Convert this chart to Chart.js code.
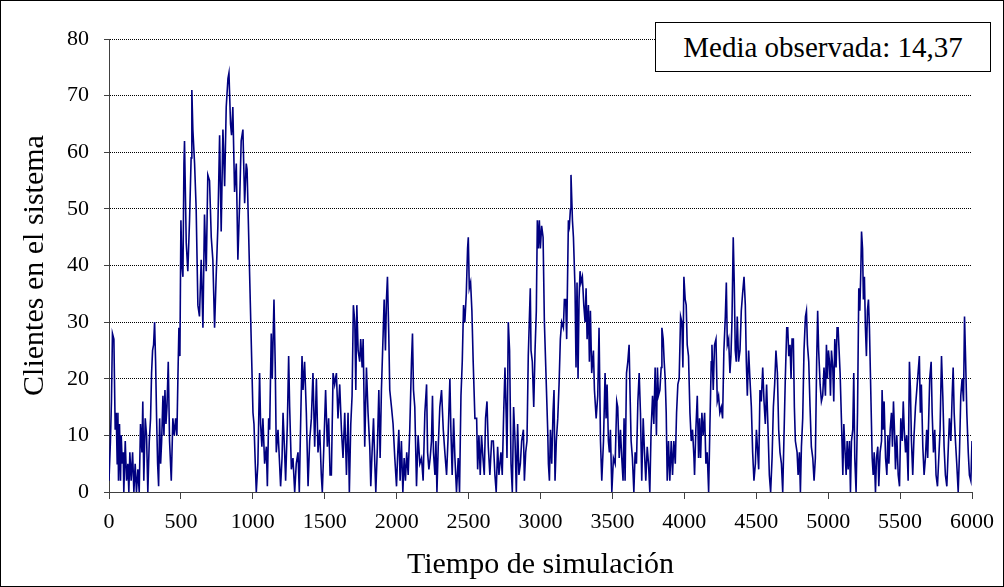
<!DOCTYPE html>
<html>
<head>
<meta charset="utf-8">
<script src="https://cdn.jsdelivr.net/npm/chart.js@4"></script>
<style>
  body { margin: 0; background: #fff; }
  #wrap { position: relative; width: 1004px; height: 587px; }
  #media {
    position: absolute; left: 655px; top: 22px; width: 336px; height: 50px;
    box-sizing: border-box; border: 1px solid #000; background: #fff;
    font: 29px "Liberation Serif", "Times New Roman", serif; color: #000;
    display: flex; align-items: center; justify-content: center;
  }
</style>
</head>
<body>
<div id="wrap">
  <canvas id="chart"></canvas>
  <div id="media">Media observada: 14,37</div>
</div>
<script>
// instantes de simulacion
const tiempo = [
  0,10,17,24,34,38,43,50,57,62, 66,73,80,85,92,99,103,113,122,131, 138,145,154,164,173,182,191,201,210,219,
  229,235,242,252,261,270,280,289,296,303, 310,317,324,331,338,345,352,359,366,375, 382,389,396,403,412,421,433,444,454,463,
  472,479,486,493,500,507,514,521,
  525,537,548,560,571,576,583,595,606,618, 629,641,653,664,676,687,699,711,722,734, 745,757,769,780,792,804,815,827,834,845,
  852,861,873,885,896,908,919,931,943,954, 960,1001,1008,1017,1024,1035,1047,1054,1063,1070, 1082,
  1094,1101,1110,1117,1128,1135,1147,1156,1163,1175, 1186,1193,1203,1210,1221,1228,1240,1249,1256,1268, 1279,1291,1302,1314,1323,1333,1342,1349,1360,1372,
  1384,1395,1407,1418,1430,1442,1453,1465,1476,1483, 1495,1506,1518,1527,1537,1546,1558,1569,1581,1592, 1604,1616,1627,1639,
  1651,1662,1671,1681,1690,1699,1709,1716,1723,1732, 1743,1750,1760,1767,1778,1790,1801,1813,1820,1829, 1839,1848,1855,1866,1876,1885,1894,1906,1913,1922,
  1929,1936,1945,1952,1964,1975,1987,1999,2006,2015, 2024,2033,2043,2052,2061,2070,2080,2091,2103,2110, 2117,2126,2138,2149,2161,2173,2184,2196,
  2208,2215,2224,2233,2242,2249,2256,2266,2273,2280, 2289,2300,2312,2324,2335,2347,2358,2370,2377,2386, 2396,2405,2416,2428,2437,2447,2456,2465,2474,2484,
  2493,2498,2505,2514,2523,2532,2544,2556,2563,2572, 2581,2590,2600,2609,2618,2628,2637,2648,2660,2672, 2683,2692,2702,2711,2725,2734,2744,2753,
  2762,2767,2776,2785,2795,2804,2813,2823,2832,2841, 2850,2860,2869,2881,2888,2897,2906,2915,2922,2929, 2934,2943,2953,2962,2971,2978,2985,2992,2999,3008,
  3018,3027,3050,3055,3062,3069,3078,3087,3094,3101, 3110,3120,3129,3138,3147,3159,3166,3175,3182,3194, 3201,3208,3212,3222,3229,3240,3247,3254,3261,3268,
  3275,3282,3291,3301,3310,
  3317,3324,3333,3340,3347,3356,3368,3375,3387,3398, 3407,3417,3426,3438,3449,3456,3463,3472,3479,3486, 3496,3507,3519,3530,3537,3547,3556,3565,3574,3581,
  3588,3598,3607,3616,3623,3630,3639,3649,3658,3667, 3677,3686,3695,3704,3714,3723,3732,3742,3751,3760, 3769,3779,3788,3797,3806,3813,3820,3830,3839,3844,
  3853,3860,3867,
  3874,3881,3890,3899,3909,3918,3927,3937,3946,3955, 3964,3974,3983,3990,3997,4006,4013,4020,4029,4039, 4048,4057,4067,4071,4080,4090,4099,4106,4113,4122,
  4131,4141,4150,4159,4169,4178,4187,4192,4201,4210, 4220,4229,4238,4247,4257,4266,4275,4285,4292,4299, 4308,4317,4324,4331,4340,4347,4354,4361,4368,4377,
  4387,4396,4405,4415,4424,
  4431,4438,4447,4456,4466,4475,4484,4494,4501,4508, 4517,4526,4535,4545,4554,4563,4572,4582,4591,4600, 4610,4619,4628,4637,4647,4656,4665,4675,4684,4693,
  4702,4712,4719,4726,4735,4742,4749,4758,4765,4772, 4784,4791,4800,4807,4814,4823,4832,4842,4849,4856, 4865,4874,4883,4893,4902,4911,4920,4927,4934,4944,
  4953,4962,4971,4981,
  4988,4995,5002,5009,5016,5023,5032,5039,5046,5055, 5062,5069,5076,5083,5092,5102,5109,5116,5125,5132, 5139,5148,5155,5162,5171,5178,5185,5194,5204,5213,
  5220,5227,5232,5239,5245,5252,5259,5266,5273,5280, 5287,5306,5313,5320,5329,5336,5345,5352,5361,5371, 5375,5382,5389,5399,5408,5415,5422,5431,5440,5447,
  5454,5461,5468,5477,5487,5496,5505,5515,5522,5529, 5538,
  5546,5556,5565,5572,5579,5588,5597,5607,5616,5625, 5634,5641,5648,5658,5667,5676,5685,5692,5699,5706, 5716,5723,5732,5741,5750,5760,5769,5778,5788,5797,
  5806,5815,5825,5834,5843,5853,5862,5869,5876,5885, 5894,5904,5913,5922,5931,5941,5948,5955,5964,5974, 5982,5992,6000
];

// clientes en el sistema en cada instante
const clientes = [
  2,9,16,28,27,20,11,14,5,14, 2,12,2,10,5,7,0,9,2,5, 0,7,2,7,0,5,0,4,0,12,
  7,16,2,13,10,0,9,13,21,25, 26,30,23,13,5,1,13,5,9,17, 10,18,12,15,23,9,2,13,10,13,
  10,20,29,24,48,40,38,58,
  62,44,39,48,59,71,64,58,50,33, 31,41,29,49,39,56,55,45,41,29, 38,47,63,46,64,54,68,73,74,65,
  63,68,53,58,41,51,62,64,51,58, 57,14,12,5,0,5,21,12,8,13, 5,
  8,1,13,11,28,20,34,22,7,11, 5,1,6,14,7,2,12,24,15,4, 6,0,5,7,0,13,24,18,23,14,
  1,9,13,21,8,20,7,11,3,0, 9,18,8,13,3,3,21,19,21,13, 19,11,6,14,
  3,14,0,12,17,33,30,18,33,25, 23,27,22,27,8,22,14,8,1,7, 13,5,0,8,18,6,18,28,34,25,
  34,38,28,18,15,12,6,1,6,11, 2,9,0,6,2,7,3,11,23,28, 18,15,1,10,5,6,2,14,
  19,7,4,6,9,17,7,3,9,0, 8,15,18,11,7,3,10,20,11,3, 13,6,0,6,0,17,23,33,30,35,
  43,45,36,37,32,23,13,13,4,10, 3,10,6,3,13,16,8,3,9,9, 3,0,8,3,7,3,14,22,
  13,6,30,25,5,0,15,9,0,12, 3,5,9,11,2,7,9,24,30,36, 25,23,15,25,32,48,43,48,43,47,
  45,30,11,5,2,11,5,14,18,2, 9,13,19,27,30,29,34,34,27,48, 47,50,56,48,45,36,22,37,20,34,
  39,37,38,33,30,
  36,27,33,23,32,21,25,18,13,17, 29,9,2,9,21,13,19,9,7,11, 0,6,5,16,15,6,11,6,2,13,
  2,21,23,26,17,9,6,0,7,5, 16,21,14,2,13,7,2,8,5,0, 11,17,12,22,10,22,17,18,22,29,
  27,23,20,
  14,2,9,2,9,3,9,5,14,19, 20,31,30,22,38,34,33,26,24,14, 9,11,6,3,11,17,6,13,6,14,
  10,14,5,7,0,12,23,26,18,26, 27,16,17,14,15,13,25,31,37,26, 27,21,24,30,45,37,25,23,31,23,
  25,32,35,38,33,
  23,17,25,20,15,7,2,5,11,8, 4,18,16,22,16,12,19,11,3,0, 6,15,19,25,21,11,7,5,0,10,
  20,29,29,24,26,20,27,27,15,9, 7,3,7,0,8,13,25,31,32,26, 23,15,8,6,2,6,23,32,25,19,
  16,17,22,17,
  26,20,25,23,17,25,22,16,27,22, 29,29,25,21,13,3,12,8,3,9, 4,9,0,9,11,21,6,0,14,36,
  32,39,46,43,34,38,29,24,32,34, 29,6,3,7,0,6,8,1,7,9, 18,11,16,6,3,10,5,11,14,8,
  16,11,4,10,3,1,13,9,16,11, 7,
  10,2,23,18,9,3,10,15,18,21, 24,14,19,8,3,6,11,6,13,20, 23,14,7,11,3,1,6,11,24,17,
  8,3,1,7,13,9,17,22,14,9, 5,0,7,17,20,16,31,24,14,7, 3,2,9
];

const ticksX = { min: 0, max: 6000, step: 500 };
const ticksY = { min: 0, max: 80, step: 10 };

if (tiempo.length !== clientes.length) console.warn('longitudes distintas', tiempo.length, clientes.length);

const serif = '"Liberation Serif", "Times New Roman", serif';

const marco = {
  id: 'marco',
  afterDraw(chart) {
    const ctx = chart.ctx;
    ctx.save();
    ctx.strokeStyle = '#000';
    ctx.lineWidth = 1;
    ctx.strokeRect(0.5, 0.5, chart.width - 1, chart.height - 1);
    ctx.restore();
  }
};

new Chart(document.getElementById('chart'), {
  type: 'line',
  data: {
    datasets: [{
      data: tiempo.map((t, i) => ({ x: t, y: clientes[i] })),
      borderColor: '#000080',
      borderWidth: 1.6,
      pointRadius: 0,
      tension: 0,
      fill: false
    }]
  },
  options: {
    responsive: true,
    maintainAspectRatio: false,
    animation: false,
    layout: { padding: { left: 0, right: 32, top: 39, bottom: 0 } },
    plugins: { legend: { display: false }, tooltip: { enabled: false } },
    scales: {
      x: {
        type: 'linear',
        min: ticksX.min, max: ticksX.max,
        afterFit: s => { s.height = 95; },
        ticks: { stepSize: ticksX.step, color: '#000', padding: 10, maxRotation: 0, callback: v => String(v), font: { family: serif, size: 22 } },
        grid: { drawOnChartArea: false, drawTicks: true, tickLength: 7, color: '#404040' },
        border: { display: true, color: '#404040', width: 1 },
        title: { display: true, text: 'Tiempo de simulación', color: '#000', font: { family: serif, size: 30 }, padding: { top: 0, bottom: 4 } }
      },
      y: {
        min: ticksY.min, max: ticksY.max,
        afterFit: s => { s.width = 109; },
        ticks: { stepSize: ticksY.step, color: '#000', padding: 15, font: { family: serif, size: 22 } },
        grid: { color: '#000', tickLength: 5, tickColor: '#404040', tickBorderDash: [] },
        border: { display: true, color: '#404040', width: 1, dash: [1, 1] },
        title: { display: true, text: 'Clientes en el sistema', color: '#000', font: { family: serif, size: 30 }, padding: { top: 17, bottom: 0 } }
      }
    }
  },
  plugins: [marco]
});
</script>
</body>
</html>
